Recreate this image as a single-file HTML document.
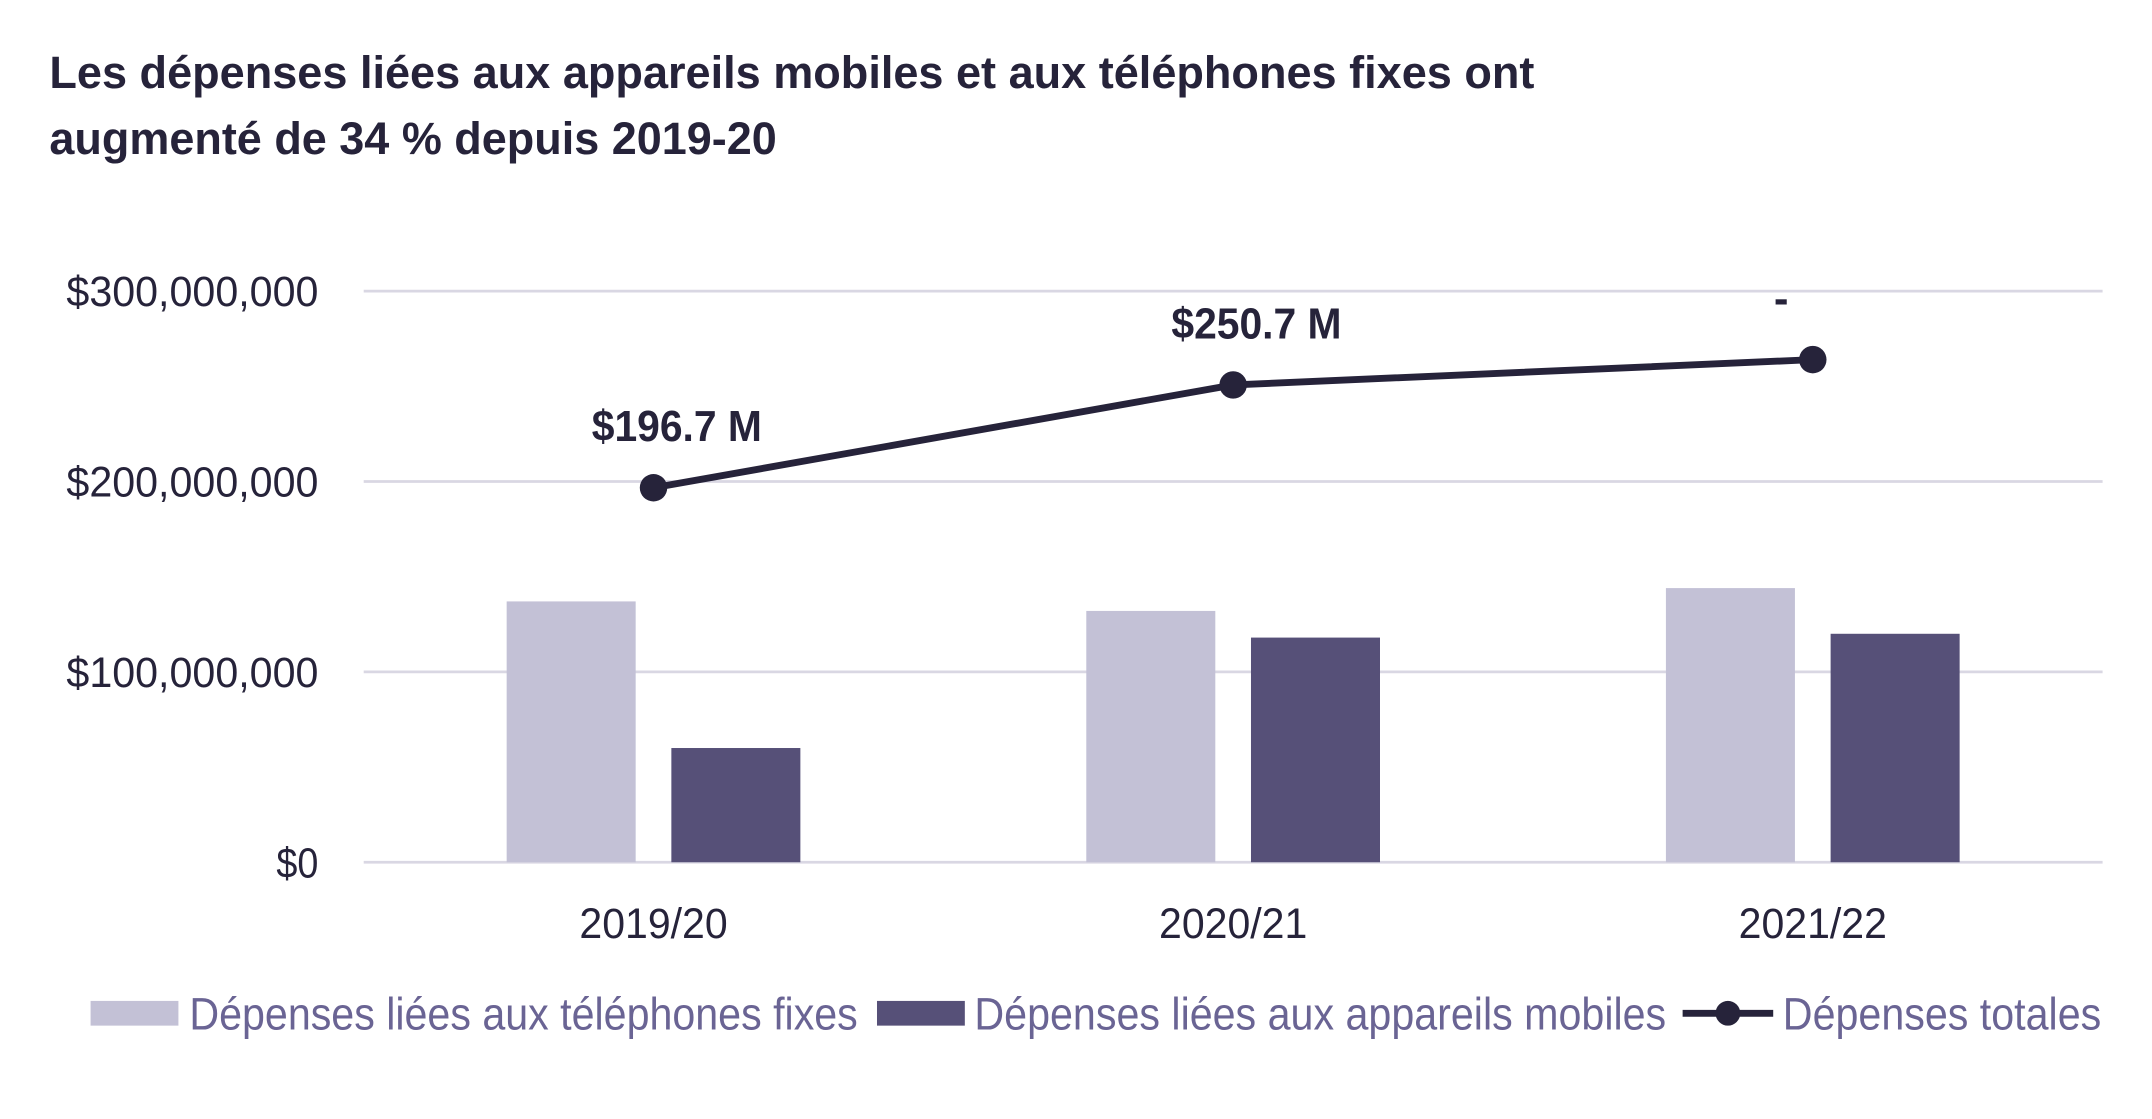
<!DOCTYPE html>
<html><head><meta charset="utf-8"><style>
html,body{margin:0;padding:0;background:#fff;}
svg{display:block;font-family:"Liberation Sans",Arial,sans-serif;}
</style></head><body>
<svg id="chart" width="2152" height="1119" viewBox="0 0 1568 815" preserveAspectRatio="none" xmlns="http://www.w3.org/2000/svg">
<g font-weight="bold" font-size="33" fill="#26233a">
<text x="36" y="64" textLength="1082" lengthAdjust="spacingAndGlyphs">Les dépenses liées aux appareils mobiles et aux téléphones fixes ont</text>
<text x="36" y="112" textLength="530" lengthAdjust="spacingAndGlyphs">augmenté de 34 % depuis 2019-20</text>
</g>
<g id="grid"></g>
<g id="yaxis"></g>
<g id="xaxis"></g>
<g id="bars"></g>
<g id="line"></g>
<g font-size="33" fill="#6a6494">
<rect x="66" y="729" width="64" height="18" fill="#c3c1d6"/>
<text x="138" y="750" textLength="487" lengthAdjust="spacingAndGlyphs">Dépenses liées aux téléphones fixes</text>
<rect x="639" y="729" width="64" height="18" fill="#565078"/>
<text x="710" y="750" textLength="504" lengthAdjust="spacingAndGlyphs">Dépenses liées aux appareils mobiles</text>
<line x1="1226" y1="738" x2="1292" y2="738" stroke="#26233a" stroke-width="5"/>
<circle cx="1259" cy="738" r="9" fill="#26233a"/>
<text x="1299" y="750" textLength="232" lengthAdjust="spacingAndGlyphs">Dépenses totales</text>
</g>
</svg>
<script>
const categories = ["2019/20","2020/21","2021/22"];
const fixedValues = [137, 132, 144];
const mobileValues = [60, 118, 120];
const totalValues = [196.7, 250.7, 264];
const totalLabels = ["$196.7 M","$250.7 M","-"];
const yTicks = [0, 100, 200, 300];
const yTickLabels = ["$0","$100,000,000","$200,000,000","$300,000,000"];

const NS="http://www.w3.org/2000/svg";
const X0=265,X1=1532,Y0=628,Y300=212;
function y(v){return Y0-(v/300)*(Y0-Y300);}
function xc(i){return X0+(X1-X0)*(i+0.5)/categories.length;}
function mk(tag,attrs,parent){const e=document.createElementNS(NS,tag);for(const k in attrs)e.setAttribute(k,attrs[k]);parent.appendChild(e);return e;}
const grid=document.getElementById('grid'),ya=document.getElementById('yaxis'),xa=document.getElementById('xaxis'),bars=document.getElementById('bars'),line=document.getElementById('line');
yTicks.forEach((t,i)=>{
  const l=mk('line',{x1:X0,x2:X1,y1:y(t),y2:y(t),stroke:'#d9d7e3','stroke-width':2},grid);
  
  
  const s=yTickLabels[i];
  const tx=mk('text',{x:232,y:y(t)+11,'text-anchor':'end','font-size':31,fill:'#26233a',textLength:(s.length*15.3).toFixed(1),lengthAdjust:'spacingAndGlyphs'},ya);
  
  
  tx.textContent=s;
});
categories.forEach((c,i)=>{
  const cx=xc(i);
  const t=mk('text',{x:cx,y:683,'text-anchor':'middle','font-size':31,fill:'#26233a',textLength:108,lengthAdjust:'spacingAndGlyphs'},xa);
  
  
  t.textContent=c;
  const b1=mk('rect',{x:cx-107,y:y(fixedValues[i]),width:94,height:Y0-y(fixedValues[i]),fill:'#c3c1d6'},bars);
  
  
  const b2=mk('rect',{x:cx+13,y:y(mobileValues[i]),width:94,height:Y0-y(mobileValues[i]),fill:'#565078'},bars);
  
  
});
const pts=totalValues.map((v,i)=>xc(i)+','+y(v)).join(' ');
const pl=mk('polyline',{points:pts,fill:'none',stroke:'#26233a','stroke-width':5},line);


totalValues.forEach((v,i)=>{
  const c=mk('circle',{cx:xc(i),cy:y(v),r:10,fill:'#26233a'},line);
  
  
  const t=mk('text',{x:xc(i)+(i==2?-23:17),y:y(v)-34,'text-anchor':'middle','font-size':32,'font-weight':'bold',fill:'#26233a'},line);
  if(i<2){t.setAttribute('textLength',124);t.setAttribute('lengthAdjust','spacingAndGlyphs');}
  
  
  t.textContent=totalLabels[i];
});
</script>
</body></html>
